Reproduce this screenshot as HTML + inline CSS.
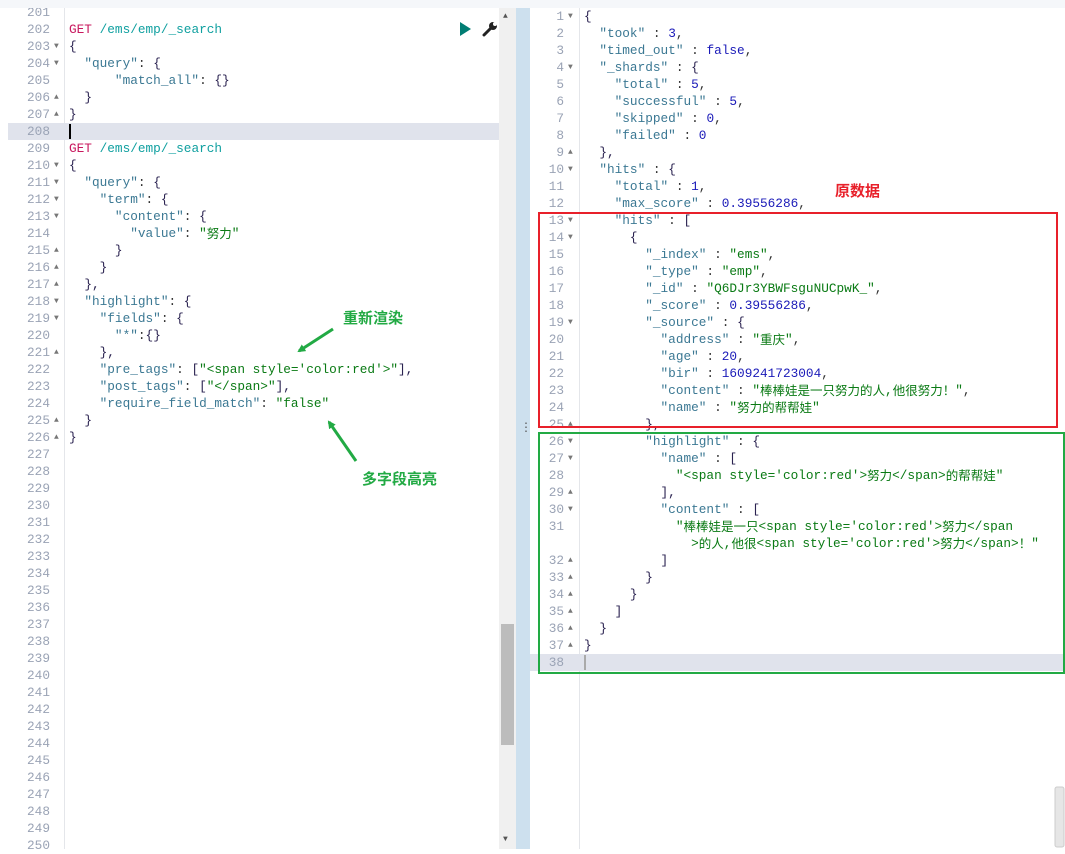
<!DOCTYPE html>
<html><head><meta charset="utf-8"><style>
body{margin:0;width:1065px;height:849px;overflow:hidden;background:#fff;position:relative;font-family:"Liberation Mono","Noto Sans CJK SC",monospace;font-size:12.75px}
.l{position:absolute;height:17px;line-height:17px;white-space:pre;color:#333}
.n{position:absolute;height:17px;line-height:17px;text-align:right;color:#9aa3b5;font-size:12.75px}
.a{position:absolute;height:17px;line-height:17px;color:#777;font-size:8px}
.k{color:#3b7893}.s{color:#0a7a14}.d{color:#1a1ab8}.p{color:#2a2250}.g{color:#c8185e}.u{color:#10a0a0}.f{color:#2a2250}
.hl{position:absolute;height:17px;background:#e0e3ec}
.cj{font-family:"Noto Sans CJK SC",sans-serif;font-size:12.5px;line-height:12px;display:inline-block;vertical-align:-1px}
</style></head><body>
<div style="position:absolute;left:0;top:0;width:1065px;height:8px;background:#f5f7fa;z-index:5"></div>
<div style="position:absolute;left:64px;top:8px;width:1px;height:841px;background:#e4e6ea"></div>
<div class="hl" style="left:8px;top:123px;width:491px"></div>
<div style="position:absolute;left:69px;top:124px;width:2px;height:15px;background:#000"></div>
<div style="position:absolute;left:499px;top:8px;width:17px;height:841px;background:#f0f0f0"></div>
<div style="position:absolute;left:501px;top:624px;width:13px;height:121px;background:#bcbcbc"></div>
<div style="position:absolute;left:503px;top:12px;font-size:8px;color:#555">▲</div>
<div style="position:absolute;left:503px;top:835px;font-size:8px;color:#555">▼</div>
<div style="position:absolute;left:516px;top:8px;width:14px;height:841px;background:#cde0ee"></div>
<div style="position:absolute;left:520px;top:420px;font-size:12px;color:#555">⋮</div>
<div style="position:absolute;left:460px;top:22px;width:0;height:0;border-top:7px solid transparent;border-bottom:7px solid transparent;border-left:11px solid #017d73"></div>
<svg style="position:absolute;left:482px;top:21px" width="16" height="16" viewBox="0 0 16 16"><path d="M2,14 L9,7" stroke="#222" stroke-width="3" stroke-linecap="round"/><circle cx="11" cy="5" r="4" fill="#222"/><circle cx="13" cy="3" r="2" fill="#fff"/></svg>
<div style="position:absolute;left:579px;top:8px;width:1px;height:841px;background:#e4e6ea"></div>
<div class="hl" style="left:530px;top:654px;width:535px"></div>
<div style="position:absolute;left:584px;top:655px;width:2px;height:15px;background:#aaa"></div>

<div class="n" style="left:0;top:4px;width:50px">201</div><div class="n" style="left:0;top:21px;width:50px">202</div><div class="n" style="left:0;top:38px;width:50px">203</div><div class="n" style="left:0;top:55px;width:50px">204</div><div class="n" style="left:0;top:72px;width:50px">205</div><div class="n" style="left:0;top:89px;width:50px">206</div><div class="n" style="left:0;top:106px;width:50px">207</div><div class="n" style="left:0;top:123px;width:50px">208</div><div class="n" style="left:0;top:140px;width:50px">209</div><div class="n" style="left:0;top:157px;width:50px">210</div><div class="n" style="left:0;top:174px;width:50px">211</div><div class="n" style="left:0;top:191px;width:50px">212</div><div class="n" style="left:0;top:208px;width:50px">213</div><div class="n" style="left:0;top:225px;width:50px">214</div><div class="n" style="left:0;top:242px;width:50px">215</div><div class="n" style="left:0;top:259px;width:50px">216</div><div class="n" style="left:0;top:276px;width:50px">217</div><div class="n" style="left:0;top:293px;width:50px">218</div><div class="n" style="left:0;top:310px;width:50px">219</div><div class="n" style="left:0;top:327px;width:50px">220</div><div class="n" style="left:0;top:344px;width:50px">221</div><div class="n" style="left:0;top:361px;width:50px">222</div><div class="n" style="left:0;top:378px;width:50px">223</div><div class="n" style="left:0;top:395px;width:50px">224</div><div class="n" style="left:0;top:412px;width:50px">225</div><div class="n" style="left:0;top:429px;width:50px">226</div><div class="n" style="left:0;top:446px;width:50px">227</div><div class="n" style="left:0;top:463px;width:50px">228</div><div class="n" style="left:0;top:480px;width:50px">229</div><div class="n" style="left:0;top:497px;width:50px">230</div><div class="n" style="left:0;top:514px;width:50px">231</div><div class="n" style="left:0;top:531px;width:50px">232</div><div class="n" style="left:0;top:548px;width:50px">233</div><div class="n" style="left:0;top:565px;width:50px">234</div><div class="n" style="left:0;top:582px;width:50px">235</div><div class="n" style="left:0;top:599px;width:50px">236</div><div class="n" style="left:0;top:616px;width:50px">237</div><div class="n" style="left:0;top:633px;width:50px">238</div><div class="n" style="left:0;top:650px;width:50px">239</div><div class="n" style="left:0;top:667px;width:50px">240</div><div class="n" style="left:0;top:684px;width:50px">241</div><div class="n" style="left:0;top:701px;width:50px">242</div><div class="n" style="left:0;top:718px;width:50px">243</div><div class="n" style="left:0;top:735px;width:50px">244</div><div class="n" style="left:0;top:752px;width:50px">245</div><div class="n" style="left:0;top:769px;width:50px">246</div><div class="n" style="left:0;top:786px;width:50px">247</div><div class="n" style="left:0;top:803px;width:50px">248</div><div class="n" style="left:0;top:820px;width:50px">249</div><div class="n" style="left:0;top:837px;width:50px">250</div>
<div class="a" style="left:54px;top:38px">▼</div><div class="a" style="left:54px;top:55px">▼</div><div class="a" style="left:54px;top:89px">▲</div><div class="a" style="left:54px;top:106px">▲</div><div class="a" style="left:54px;top:157px">▼</div><div class="a" style="left:54px;top:174px">▼</div><div class="a" style="left:54px;top:191px">▼</div><div class="a" style="left:54px;top:208px">▼</div><div class="a" style="left:54px;top:242px">▲</div><div class="a" style="left:54px;top:259px">▲</div><div class="a" style="left:54px;top:276px">▲</div><div class="a" style="left:54px;top:293px">▼</div><div class="a" style="left:54px;top:310px">▼</div><div class="a" style="left:54px;top:344px">▲</div><div class="a" style="left:54px;top:412px">▲</div><div class="a" style="left:54px;top:429px">▲</div>
<div class="l" style="left:69px;top:21px"><span class="g">GET</span> <span class="u">/ems/emp/_search</span></div>
<div class="l" style="left:69px;top:38px"><span class="p">{</span></div>
<div class="l" style="left:69px;top:55px">  <span class="k">"query"</span>: <span class="p">{</span></div>
<div class="l" style="left:69px;top:72px">      <span class="k">"match_all"</span>: <span class="p">{}</span></div>
<div class="l" style="left:69px;top:89px">  <span class="p">}</span></div>
<div class="l" style="left:69px;top:106px"><span class="p">}</span></div>
<div class="l" style="left:69px;top:140px"><span class="g">GET</span> <span class="u">/ems/emp/_search</span></div>
<div class="l" style="left:69px;top:157px"><span class="p">{</span></div>
<div class="l" style="left:69px;top:174px">  <span class="k">"query"</span>: <span class="p">{</span></div>
<div class="l" style="left:69px;top:191px">    <span class="k">"term"</span>: <span class="p">{</span></div>
<div class="l" style="left:69px;top:208px">      <span class="k">"content"</span>: <span class="p">{</span></div>
<div class="l" style="left:69px;top:225px">        <span class="k">"value"</span>: <span class="s">"<span class="cj">努力</span>"</span></div>
<div class="l" style="left:69px;top:242px">      <span class="p">}</span></div>
<div class="l" style="left:69px;top:259px">    <span class="p">}</span></div>
<div class="l" style="left:69px;top:276px">  <span class="p">},</span></div>
<div class="l" style="left:69px;top:293px">  <span class="k">"highlight"</span>: <span class="p">{</span></div>
<div class="l" style="left:69px;top:310px">    <span class="k">"fields"</span>: <span class="p">{</span></div>
<div class="l" style="left:69px;top:327px">      <span class="k">"*"</span>:<span class="p">{}</span></div>
<div class="l" style="left:69px;top:344px">    <span class="p">},</span></div>
<div class="l" style="left:69px;top:361px">    <span class="k">"pre_tags"</span>: <span class="p">[</span><span class="s">"&lt;span style='color:red'&gt;"</span><span class="p">],</span></div>
<div class="l" style="left:69px;top:378px">    <span class="k">"post_tags"</span>: <span class="p">[</span><span class="s">"&lt;/span&gt;"</span><span class="p">],</span></div>
<div class="l" style="left:69px;top:395px">    <span class="k">"require_field_match"</span>: <span class="s">"false"</span></div>
<div class="l" style="left:69px;top:412px">  <span class="p">}</span></div>
<div class="l" style="left:69px;top:429px"><span class="p">}</span></div>

<div class="n" style="left:530px;top:8px;width:34px">1</div><div class="n" style="left:530px;top:25px;width:34px">2</div><div class="n" style="left:530px;top:42px;width:34px">3</div><div class="n" style="left:530px;top:59px;width:34px">4</div><div class="n" style="left:530px;top:76px;width:34px">5</div><div class="n" style="left:530px;top:93px;width:34px">6</div><div class="n" style="left:530px;top:110px;width:34px">7</div><div class="n" style="left:530px;top:127px;width:34px">8</div><div class="n" style="left:530px;top:144px;width:34px">9</div><div class="n" style="left:530px;top:161px;width:34px">10</div><div class="n" style="left:530px;top:178px;width:34px">11</div><div class="n" style="left:530px;top:195px;width:34px">12</div><div class="n" style="left:530px;top:212px;width:34px">13</div><div class="n" style="left:530px;top:229px;width:34px">14</div><div class="n" style="left:530px;top:246px;width:34px">15</div><div class="n" style="left:530px;top:263px;width:34px">16</div><div class="n" style="left:530px;top:280px;width:34px">17</div><div class="n" style="left:530px;top:297px;width:34px">18</div><div class="n" style="left:530px;top:314px;width:34px">19</div><div class="n" style="left:530px;top:331px;width:34px">20</div><div class="n" style="left:530px;top:348px;width:34px">21</div><div class="n" style="left:530px;top:365px;width:34px">22</div><div class="n" style="left:530px;top:382px;width:34px">23</div><div class="n" style="left:530px;top:399px;width:34px">24</div><div class="n" style="left:530px;top:416px;width:34px">25</div><div class="n" style="left:530px;top:433px;width:34px">26</div><div class="n" style="left:530px;top:450px;width:34px">27</div><div class="n" style="left:530px;top:467px;width:34px">28</div><div class="n" style="left:530px;top:484px;width:34px">29</div><div class="n" style="left:530px;top:501px;width:34px">30</div><div class="n" style="left:530px;top:518px;width:34px">31</div><div class="n" style="left:530px;top:552px;width:34px">32</div><div class="n" style="left:530px;top:569px;width:34px">33</div><div class="n" style="left:530px;top:586px;width:34px">34</div><div class="n" style="left:530px;top:603px;width:34px">35</div><div class="n" style="left:530px;top:620px;width:34px">36</div><div class="n" style="left:530px;top:637px;width:34px">37</div><div class="n" style="left:530px;top:654px;width:34px">38</div>
<div class="a" style="left:568px;top:8px">▼</div><div class="a" style="left:568px;top:59px">▼</div><div class="a" style="left:568px;top:144px">▲</div><div class="a" style="left:568px;top:161px">▼</div><div class="a" style="left:568px;top:212px">▼</div><div class="a" style="left:568px;top:229px">▼</div><div class="a" style="left:568px;top:314px">▼</div><div class="a" style="left:568px;top:416px">▲</div><div class="a" style="left:568px;top:433px">▼</div><div class="a" style="left:568px;top:450px">▼</div><div class="a" style="left:568px;top:484px">▲</div><div class="a" style="left:568px;top:501px">▼</div><div class="a" style="left:568px;top:552px">▲</div><div class="a" style="left:568px;top:569px">▲</div><div class="a" style="left:568px;top:586px">▲</div><div class="a" style="left:568px;top:603px">▲</div><div class="a" style="left:568px;top:620px">▲</div><div class="a" style="left:568px;top:637px">▲</div>
<div class="l" style="left:584px;top:8px"><span class="p">{</span></div>
<div class="l" style="left:584px;top:25px">  <span class="k">"took"</span> : <span class="d">3</span>,</div>
<div class="l" style="left:584px;top:42px">  <span class="k">"timed_out"</span> : <span class="d">false</span>,</div>
<div class="l" style="left:584px;top:59px">  <span class="k">"_shards"</span> : <span class="p">{</span></div>
<div class="l" style="left:584px;top:76px">    <span class="k">"total"</span> : <span class="d">5</span>,</div>
<div class="l" style="left:584px;top:93px">    <span class="k">"successful"</span> : <span class="d">5</span>,</div>
<div class="l" style="left:584px;top:110px">    <span class="k">"skipped"</span> : <span class="d">0</span>,</div>
<div class="l" style="left:584px;top:127px">    <span class="k">"failed"</span> : <span class="d">0</span></div>
<div class="l" style="left:584px;top:144px">  <span class="p">},</span></div>
<div class="l" style="left:584px;top:161px">  <span class="k">"hits"</span> : <span class="p">{</span></div>
<div class="l" style="left:584px;top:178px">    <span class="k">"total"</span> : <span class="d">1</span>,</div>
<div class="l" style="left:584px;top:195px">    <span class="k">"max_score"</span> : <span class="d">0.39556286</span>,</div>
<div class="l" style="left:584px;top:212px">    <span class="k">"hits"</span> : <span class="p">[</span></div>
<div class="l" style="left:584px;top:229px">      <span class="p">{</span></div>
<div class="l" style="left:584px;top:246px">        <span class="k">"_index"</span> : <span class="s">"ems"</span>,</div>
<div class="l" style="left:584px;top:263px">        <span class="k">"_type"</span> : <span class="s">"emp"</span>,</div>
<div class="l" style="left:584px;top:280px">        <span class="k">"_id"</span> : <span class="s">"Q6DJr3YBWFsguNUCpwK_"</span>,</div>
<div class="l" style="left:584px;top:297px">        <span class="k">"_score"</span> : <span class="d">0.39556286</span>,</div>
<div class="l" style="left:584px;top:314px">        <span class="k">"_source"</span> : <span class="p">{</span></div>
<div class="l" style="left:584px;top:331px">          <span class="k">"address"</span> : <span class="s">"<span class="cj">重庆</span>"</span>,</div>
<div class="l" style="left:584px;top:348px">          <span class="k">"age"</span> : <span class="d">20</span>,</div>
<div class="l" style="left:584px;top:365px">          <span class="k">"bir"</span> : <span class="d">1609241723004</span>,</div>
<div class="l" style="left:584px;top:382px">          <span class="k">"content"</span> : <span class="s">"<span class="cj">棒棒娃是一只努力的人</span>,<span class="cj">他很努力！</span>"</span>,</div>
<div class="l" style="left:584px;top:399px">          <span class="k">"name"</span> : <span class="s">"<span class="cj">努力的帮帮娃</span>"</span></div>
<div class="l" style="left:584px;top:416px">        <span class="p">},</span></div>
<div class="l" style="left:584px;top:433px">        <span class="k">"highlight"</span> : <span class="p">{</span></div>
<div class="l" style="left:584px;top:450px">          <span class="k">"name"</span> : <span class="p">[</span></div>
<div class="l" style="left:584px;top:467px">            <span class="s">"&lt;span style='color:red'&gt;<span class="cj">努力</span>&lt;/span&gt;<span class="cj">的帮帮娃</span>"</span></div>
<div class="l" style="left:584px;top:484px">          <span class="p">],</span></div>
<div class="l" style="left:584px;top:501px">          <span class="k">"content"</span> : <span class="p">[</span></div>
<div class="l" style="left:584px;top:518px">            <span class="s">"<span class="cj">棒棒娃是一只</span>&lt;span style='color:red'&gt;<span class="cj">努力</span>&lt;/span</span></div>
<div class="l" style="left:584px;top:535px">              <span class="s">&gt;<span class="cj">的人</span>,<span class="cj">他很</span>&lt;span style='color:red'&gt;<span class="cj">努力</span>&lt;/span&gt;<span class="cj">！</span>"</span></div>
<div class="l" style="left:584px;top:552px">          <span class="p">]</span></div>
<div class="l" style="left:584px;top:569px">        <span class="p">}</span></div>
<div class="l" style="left:584px;top:586px">      <span class="p">}</span></div>
<div class="l" style="left:584px;top:603px">    <span class="p">]</span></div>
<div class="l" style="left:584px;top:620px">  <span class="p">}</span></div>
<div class="l" style="left:584px;top:637px"><span class="p">}</span></div>

<div style="position:absolute;left:538px;top:212px;width:516px;height:212px;border:2px solid #e8202a"></div>
<div style="position:absolute;left:538px;top:432px;width:523px;height:238px;border:2px solid #22aa44"></div>
<div style="position:absolute;left:835px;top:180px;font-family:'Noto Sans CJK SC',sans-serif;font-weight:bold;font-size:15px;color:#e8202a">原数据</div>
<div style="position:absolute;left:343px;top:307px;font-family:'Noto Sans CJK SC',sans-serif;font-weight:bold;font-size:15px;color:#22aa44">重新渲染</div>
<div style="position:absolute;left:362px;top:468px;font-family:'Noto Sans CJK SC',sans-serif;font-weight:bold;font-size:15px;color:#22aa44">多字段高亮</div>
<svg style="position:absolute;left:0;top:0" width="1065" height="849">
<defs><marker id="m" markerWidth="8" markerHeight="8" refX="6" refY="4" orient="auto" markerUnits="userSpaceOnUse"><path d="M0,0 L8,4 L0,8 z" fill="#22aa44"/></marker></defs>
<line x1="333" y1="329" x2="299" y2="351" stroke="#22aa44" stroke-width="3" marker-end="url(#m)"/>
<line x1="356" y1="461" x2="329" y2="422" stroke="#22aa44" stroke-width="3" marker-end="url(#m)"/>
<rect x="1055" y="787" width="9" height="60" rx="2" fill="#e6e6e6" stroke="#ccc"/>
</svg>
</body></html>
